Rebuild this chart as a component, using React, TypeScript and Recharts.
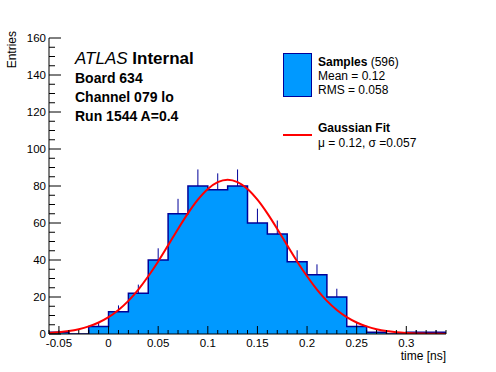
import React from "react";
import {
  ComposedChart,
  Area,
  Line,
  Scatter,
  ErrorBar,
  XAxis,
  YAxis,
} from "recharts";

// histogram bins (low edges, width 0.02 ns) and entries per bin
const binLowEdges = [
  -0.06, -0.04, -0.02, 0, 0.02, 0.04, 0.06, 0.08, 0.1, 0.12, 0.14, 0.16, 0.18,
  0.2, 0.22, 0.24, 0.26, 0.28, 0.3, 0.32,
];
const binCounts = [1, 0, 4, 12, 22, 40, 65, 80, 78, 80, 60, 54, 39, 32, 20, 4, 1, 0, 1, 1];
const binWidth = 0.02;

// gaussian fit curve
const fitTimes = [
  -0.06, -0.05, -0.04, -0.03, -0.02, -0.01, 0, 0.01, 0.02, 0.03, 0.04, 0.05,
  0.06, 0.07, 0.08, 0.09, 0.1, 0.11, 0.12, 0.13, 0.14, 0.15, 0.16, 0.17, 0.18,
  0.19, 0.2, 0.21, 0.22, 0.23, 0.24, 0.25, 0.26, 0.27, 0.28, 0.29, 0.3, 0.31,
  0.32, 0.33, 0.34,
];
const fitValues = [
  0.6, 1.0, 1.6, 2.6, 4.1, 6.2, 9.1, 13.0, 17.9, 24.0, 31.2, 39.2, 47.9, 56.8,
  65.2, 72.6, 78.4, 82.1, 83.4, 82.1, 78.4, 72.6, 65.2, 56.8, 47.9, 39.2, 31.2,
  24.0, 17.9, 13.0, 9.1, 6.2, 4.1, 2.6, 1.6, 1.0, 0.6, 0.3, 0.2, 0.1, 0.05,
];

const xMajorTicks = [-0.05, 0, 0.05, 0.1, 0.15, 0.2, 0.25, 0.3];
const xMinorTicks = [
  -0.06, -0.04, -0.03, -0.02, -0.01, 0.01, 0.02, 0.03, 0.04, 0.06, 0.07, 0.08,
  0.09, 0.11, 0.12, 0.13, 0.14, 0.16, 0.17, 0.18, 0.19, 0.21, 0.22, 0.23, 0.24,
  0.26, 0.27, 0.28, 0.29, 0.31, 0.32, 0.33, 0.34,
];
const yMajorTicks = [0, 20, 40, 60, 80, 100, 120, 140, 160];
const yMinorTicks = [
  5, 10, 15, 25, 30, 35, 45, 50, 55, 65, 70, 75, 85, 90, 95, 105, 110, 115,
  125, 130, 135, 145, 150, 155,
];

const FONT = '"Liberation Sans", Arial, Helvetica, sans-serif';
const FILL = "#0099ff";
const LINE = "#000099";

const histData = [
  ...binLowEdges.map((x, i) => ({ x, y: binCounts[i] })),
  { x: binLowEdges[binLowEdges.length - 1] + binWidth, y: binCounts[binCounts.length - 1] },
];
const errData = binLowEdges.map((x, i) => ({
  x: x + binWidth / 2,
  y: binCounts[i],
  err: [0, Math.sqrt(binCounts[i])],
}));
const fitData = fitTimes.map((x, i) => ({ x, y: fitValues[i] }));

const xTicks = [...xMajorTicks, ...xMinorTicks].sort((a, b) => a - b);
const yTicks = [...yMajorTicks, ...yMinorTicks].sort((a, b) => a - b);

const isMajor = (list: number[], v: number) => list.some((m) => Math.abs(m - v) < 1e-9);

function XTick(props: any) {
  const { x, y, payload } = props;
  const major = isMajor(xMajorTicks, payload.value);
  return (
    <g>
      <line x1={x} x2={x} y1={y} y2={y - (major ? 8 : 4)} stroke="#000" />
      {major && (
        <text x={x} y={y + 13} textAnchor="middle" fontSize={11.5} fontFamily={FONT} fill="#000">
          {String(+payload.value.toFixed(2))}
        </text>
      )}
    </g>
  );
}

function YTick(props: any) {
  const { x, y, payload } = props;
  const major = isMajor(yMajorTicks, payload.value);
  return (
    <g>
      <line x1={x} x2={x + (major ? 12 : 6)} y1={y} y2={y} stroke="#000" />
      {major && (
        <text x={x - 3} y={y + 4} textAnchor="end" fontSize={11.5} fontFamily={FONT} fill="#000">
          {payload.value}
        </text>
      )}
    </g>
  );
}

export default function App() {
  return (
    <div style={{ position: "absolute", left: 0, top: 0, width: 496, height: 372, background: "#fff" }}>
      <ComposedChart width={496} height={372} margin={{ top: 38, right: 50, left: 0, bottom: 0 }}>
        <XAxis
          dataKey="x"
          type="number"
          domain={[-0.06, 0.34]}
          ticks={xTicks}
          interval={0}
          tickSize={0}
          tickMargin={0}
          tickLine={false}
          tick={<XTick />}
          height={38}
          axisLine={{ stroke: "#000" }}
          allowDataOverflow
        />
        <XAxis
          xAxisId="top"
          orientation="top"
          type="number"
          domain={[-0.06, 0.34]}
          tick={false}
          tickLine={false}
          height={0}
          axisLine={{ stroke: "#000" }}
        />
        <YAxis
          type="number"
          domain={[0, 160]}
          ticks={yTicks}
          interval={0}
          tickSize={0}
          tickMargin={0}
          tickLine={false}
          tick={<YTick />}
          width={49}
          axisLine={{ stroke: "#000" }}
          allowDataOverflow
        />
        <YAxis
          yAxisId="right"
          orientation="right"
          type="number"
          domain={[0, 160]}
          tick={false}
          tickLine={false}
          width={0}
          axisLine={{ stroke: "#000" }}
        />
        <Area
          data={histData}
          dataKey="y"
          type="stepAfter"
          fill={FILL}
          fillOpacity={1}
          stroke={LINE}
          strokeWidth={1.5}
          isAnimationActive={false}
        />
        <Scatter data={errData} dataKey="y" shape={() => <g />} isAnimationActive={false}>
          <ErrorBar dataKey="err" direction="y" width={0} stroke={LINE} strokeWidth={1} />
        </Scatter>
        <Line
          data={fitData}
          dataKey="y"
          type="monotone"
          stroke="#ff0000"
          strokeWidth={2}
          dot={false}
          isAnimationActive={false}
        />
      </ComposedChart>
      <svg
        width={496}
        height={372}
        style={{ position: "absolute", left: 0, top: 0, pointerEvents: "none" }}
        fontFamily={FONT}
      >
        <text x={75} y={64} fontSize={17}>
          <tspan fontStyle="italic">ATLAS</tspan>
          <tspan fontWeight="bold"> Internal</tspan>
        </text>
        <text x={75} y={83} fontSize={14} fontWeight="bold">Board 634</text>
        <text x={75} y={102} fontSize={14} fontWeight="bold">Channel 079 lo</text>
        <text x={75} y={121} fontSize={14} fontWeight="bold">Run 1544 A=0.4</text>

        <rect x={283.5} y={53.5} width={28} height={43} fill={FILL} stroke={LINE} strokeWidth={1} />
        <text x={318} y={66} fontSize={12}>
          <tspan fontWeight="bold">Samples</tspan>
          <tspan> (596)</tspan>
        </text>
        <text x={318} y={80} fontSize={12}>Mean = 0.12</text>
        <text x={318} y={94} fontSize={12}>RMS = 0.058</text>

        <line x1={283} x2={312} y1={135} y2={135} stroke="#ff0000" strokeWidth={2} />
        <text x={318} y={132} fontSize={12} fontWeight="bold">Gaussian Fit</text>
        <text x={318} y={146.5} fontSize={12}>μ = 0.12, σ =0.057</text>

        <text x={446} y={360} fontSize={12} textAnchor="end">time [ns]</text>
        <text transform="translate(16,31) rotate(-90)" fontSize={12} textAnchor="end">Entries</text>
      </svg>
    </div>
  );
}
